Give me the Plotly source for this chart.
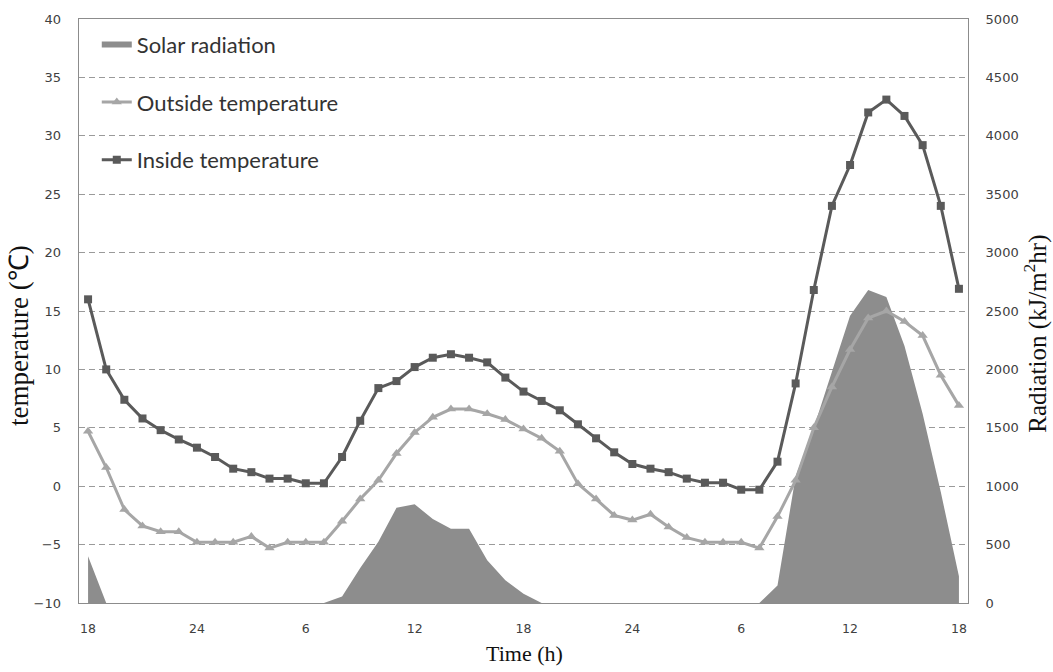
import plotly.graph_objects as go

# hour index from 18:00 on day 1 to 18:00 on day 3
hours = list(range(49))
tick_positions = [0, 6, 12, 18, 24, 30, 36, 42, 48]
tick_labels = ["18", "24", "6", "12", "18", "24", "6", "12", "18"]

radiation = [400, 0, 0, 0, 0, 0, 0, 0, 0, 0, 0, 0, 0, 0,
             55, 300, 525, 815, 845, 720, 635, 635, 365, 195, 80,
             0, 0, 0, 0, 0, 0, 0, 0, 0, 0, 0, 0, 0,
             150, 1085, 1500, 1980, 2460, 2680, 2620, 2200, 1620, 950, 230]

outside = [4.7, 1.6, -2.0, -3.4, -3.9, -3.9, -4.8, -4.8, -4.8, -4.3, -5.3, -4.8, -4.8, -4.8,
           -3.0, -1.1, 0.5, 2.8, 4.6, 5.9, 6.6, 6.6, 6.2, 5.7, 4.9, 4.1, 3.0, 0.2,
           -1.1, -2.5, -2.9, -2.4, -3.5, -4.4, -4.8, -4.8, -4.8, -5.3,
           -2.6, 0.5, 5.0, 8.5, 11.7, 14.4, 15.0, 14.1, 12.9, 9.5, 6.9]

inside = [16.0, 10.0, 7.4, 5.8, 4.8, 4.0, 3.3, 2.5, 1.5, 1.2, 0.65, 0.65, 0.25, 0.25,
          2.5, 5.6, 8.4, 9.0, 10.2, 11.0, 11.3, 11.0, 10.6, 9.3, 8.1, 7.3, 6.5, 5.3,
          4.1, 2.9, 1.9, 1.5, 1.2, 0.65, 0.3, 0.3, -0.3, -0.3,
          2.1, 8.8, 16.8, 24.0, 27.5, 32.0, 33.1, 31.7, 29.2, 24.0, 16.9]

ytick_font = dict(family="DejaVu Sans", size=13, color="#404040")
xtick_font = dict(family="DejaVu Sans", size=12.5, color="#404040")
vtitle_font_l = dict(family="Liberation Serif", size=27, color="#111111")
vtitle_font_r = dict(family="Liberation Serif", size=25, color="#111111")
xtitle_font = dict(family="Liberation Serif", size=22, color="#111111")
axis_line = "#8c8c8c"

fig = go.Figure()
fig.add_trace(go.Scatter(
    x=hours, y=radiation, name="Solar radiation", mode="none",
    fill="tozeroy", fillcolor="#8d8d8d", yaxis="y", legendgroup="a"))
fig.add_trace(go.Scatter(
    x=hours, y=outside, name="Outside temperature", mode="lines+markers",
    line=dict(color="#a6a6a6", width=3),
    marker=dict(symbol="triangle-up", size=9, color="#a6a6a6"),
    yaxis="y2", legendgroup="b"))
fig.add_trace(go.Scatter(
    x=hours, y=inside, name="Inside temperature", mode="lines+markers",
    line=dict(color="#5a5a5a", width=3),
    marker=dict(symbol="square", size=8, color="#5a5a5a"),
    yaxis="y2", legendgroup="c"))

fig.update_layout(
    width=1053, height=672,
    margin=dict(l=79, r=85, t=15, b=69),
    paper_bgcolor="white", plot_bgcolor="white",
    xaxis=dict(range=[-0.5, 48.5], tickmode="array", tickvals=tick_positions,
               ticktext=tick_labels, showgrid=False, zeroline=False,
               showline=True, linecolor=axis_line, linewidth=1, mirror=True,
               ticks="", tickfont=xtick_font, ticklabelstandoff=14),
    yaxis=dict(side="right", range=[0, 5000], dtick=500, tick0=0,
               showgrid=True, gridcolor="#9a9a9a", griddash="6px,4px", gridwidth=1,
               zeroline=False, showline=True, linecolor=axis_line, linewidth=1,
               mirror=True, ticks="", tickfont=ytick_font, ticklabelstandoff=14),
    yaxis2=dict(side="left", overlaying="y", range=[-10, 40], dtick=5, tick0=-10,
                showgrid=False, zeroline=False, showline=False, ticks="",
                tickfont=ytick_font, ticklabelstandoff=17),
    showlegend=True,
    legend=dict(x=0.02, y=0.992, xanchor="left", yanchor="top",
                bgcolor="rgba(0,0,0,0)", traceorder="grouped", tracegroupgap=26,
                font=dict(family="Lato", size=22, color="#333333")),
    annotations=[
        dict(text="temperature (℃)", xref="paper", yref="paper",
             x=-0.0675, y=0.459, xanchor="center", yanchor="middle",
             textangle=-90, showarrow=False, font=vtitle_font_l),
        dict(text="Radiation (kJ/m<sup>2</sup>hr)", xref="paper", yref="paper",
             x=1.0765, y=0.461, xanchor="center", yanchor="middle",
             textangle=-90, showarrow=False, font=vtitle_font_r),
        dict(text="Time (h)", xref="paper", yref="paper",
             x=0.5006, y=-0.0867, xanchor="center", yanchor="middle",
             showarrow=False, font=xtitle_font),
    ],
)

fig.write_html("out.html", config={"displayModeBar": False},
               post_script="document.body.style.margin='0px';document.body.style.overflow='hidden';")
